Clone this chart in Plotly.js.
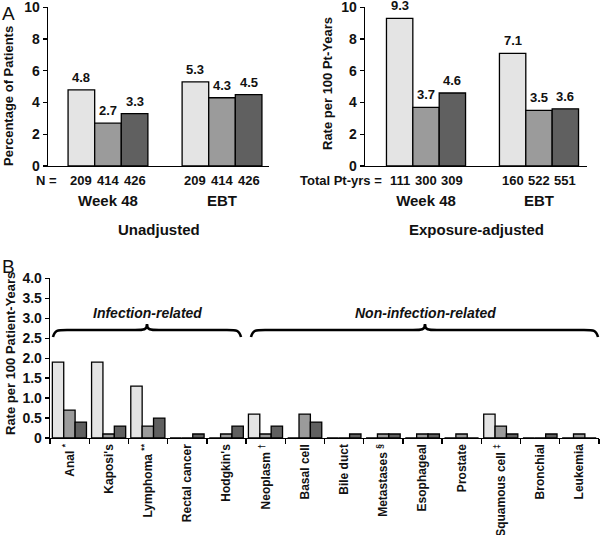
<!DOCTYPE html>
<html><head><meta charset="utf-8">
<script src="https://cdn.plot.ly/plotly-3.0.1.min.js"></script>
<style>html,body{margin:0;padding:0;background:#fff}#chart{width:600px;height:535px}</style>
</head><body><div id="chart"></div>
<script>
// ---------- data ----------
const groups = ['Week 48', 'EBT'];
const unadjLight = [4.8, 5.3];
const unadjMid = [2.7, 4.3];
const unadjDark = [3.3, 4.5];
const nLight = [209, 209];
const nMid = [414, 414];
const nDark = [426, 426];
const expLight = [9.3, 7.1];
const expMid = [3.7, 3.5];
const expDark = [4.6, 3.6];
const ptyLight = [111, 160];
const ptyMid = [300, 522];
const ptyDark = [309, 551];
const cancers = ['Anal <sup>*</sup>', "Kaposi's", 'Lymphoma <sup>**</sup>', 'Rectal cancer', "Hodgkin's",
  'Neoplasm <sup>†</sup>', 'Basal cell', 'Bile duct', 'Metastases <sup>§</sup>', 'Esophageal', 'Prostate',
  'Squamous cell <sup>‡</sup>', 'Bronchial', 'Leukemia'];
const rateLight = [1.9, 1.9, 1.3, 0, 0, 0.6, 0, 0, 0, 0, 0, 0.6, 0, 0];
const rateMid = [0.7, 0.1, 0.3, 0, 0.1, 0.1, 0.6, 0, 0.1, 0.1, 0.1, 0.3, 0, 0.1];
const rateDark = [0.4, 0.3, 0.5, 0.1, 0.3, 0.3, 0.4, 0.1, 0.1, 0.1, 0, 0.1, 0.1, 0];
const topTicks = [0, 2, 4, 6, 8, 10];
const botTicks = [0, 0.5, 1, 1.5, 2, 2.5, 3, 3.5, 4];

// ---------- style ----------
const FONT = "'Liberation Sans', Arial, sans-serif";
const colors = ['#e4e4e4', '#9b9b9b', '#606060'];
const W = 600, H = 535;
const px = x => x / W, py = y => 1 - y / H;
const bold = (size) => ({family: FONT, size: size, color: '#111', weight: 700});

const traces = [];
function addBars(vals, xa, ya, i) {
  traces.push({type: 'bar', x: groups, y: vals, xaxis: xa, yaxis: ya, showlegend: false,
    marker: {color: colors[i], line: {color: '#000', width: 1.3}}, hoverinfo: 'skip'});
}
[unadjLight, unadjMid, unadjDark].forEach((v, i) => addBars(v, 'x', 'y', i));
[expLight, expMid, expDark].forEach((v, i) => addBars(v, 'x2', 'y2', i));
const bw = 0.29, offs = [-0.44, -0.15, 0.14];
[rateLight, rateMid, rateDark].forEach((v, i) => traces.push({type: 'bar', x: cancers, y: v,
  xaxis: 'x3', yaxis: 'y3', width: bw, offset: offs[i], showlegend: false,
  marker: {color: colors[i], line: {color: '#000', width: 1.3}}, hoverinfo: 'skip'}));

const annotations = [];
const step = 0.7 / 3;
function barLabels(series, counts, xr, yr) {
  series.forEach((vals, s) => vals.forEach((v, g) => {
    const xpos = g + (s - 1) * step;
    annotations.push({xref: xr, yref: yr, x: xpos, y: v, text: v.toFixed(1), showarrow: false,
      xanchor: 'center', yanchor: 'bottom', yshift: 3, font: bold(13)});
    annotations.push({xref: xr, yref: yr, x: xpos, y: 0, text: String(counts[s][g]), showarrow: false,
      xanchor: 'center', yanchor: 'middle', yshift: -14, font: bold(13)});
  }));
}
barLabels([unadjLight, unadjMid, unadjDark], [nLight, nMid, nDark], 'x', 'y');
barLabels([expLight, expMid, expDark], [ptyLight, ptyMid, ptyDark], 'x2', 'y2');

const paperText = (x, y, text, font, extra) => Object.assign({xref: 'paper', yref: 'paper', x: px(x), y: py(y),
  xanchor: 'center', yanchor: 'middle', text: text, showarrow: false, font: font}, extra || {});
const plain = {family: FONT, size: 19, color: '#111'};
annotations.push(
  paperText(59, 180, 'N =', bold(13), {xanchor: 'right'}),
  paperText(384, 180, 'Total Pt-yrs =', bold(13), {xanchor: 'right'}),
  paperText(159, 229, 'Unadjusted', bold(15)),
  paperText(476, 229, 'Exposure-adjusted', bold(15)),
  paperText(9, 96, 'Percentage of Patients', bold(13), {textangle: -90}),
  paperText(327, 84, 'Rate per 100 Pt-Years', bold(13), {textangle: -90}),
  paperText(10, 354, 'Rate per 100 Patient-Years', bold(13), {textangle: -90}),
  paperText(0, 1, 'A', plain, {xanchor: 'left', yanchor: 'top'}),
  paperText(0, 254, 'B', plain, {xanchor: 'left', yanchor: 'top'}),
  paperText(147, 313, '<i>Infection-related</i>', bold(14)),
  paperText(425, 313, '<i>Non-infection-related</i>', bold(14))
);

function brace(x0, x1, xm, yMain, yTip, yEnd) {
  const P = (x, y) => px(x).toFixed(4) + ',' + py(y).toFixed(4);
  return 'M' + P(x0, yEnd) + ' C' + P(x0 + 2, yMain) + ' ' + P(x0 + 4, yMain) + ' ' + P(x0 + 14, yMain) +
    ' L' + P(xm - 12, yMain) + ' C' + P(xm - 3, yMain) + ' ' + P(xm, yMain) + ' ' + P(xm, yTip) +
    ' C' + P(xm, yMain) + ' ' + P(xm + 3, yMain) + ' ' + P(xm + 12, yMain) +
    ' L' + P(x1 - 14, yMain) + ' C' + P(x1 - 4, yMain) + ' ' + P(x1 - 2, yMain) + ' ' + P(x1, yEnd);
}
const shapes = [
  {type: 'path', xref: 'paper', yref: 'paper', path: brace(53, 241, 147, 330, 324, 337), line: {color: '#000', width: 2.6}},
  {type: 'path', xref: 'paper', yref: 'paper', path: brace(251, 598, 425, 330, 324, 337), line: {color: '#000', width: 2.6}}
];

const yTop = (dom) => ({domain: dom, range: [0, 10.02], tickvals: topTicks, ticktext: topTicks.map(String),
  showline: true, linecolor: '#000', linewidth: 1.3, ticks: 'outside', ticklen: 4, tickwidth: 1.3, tickcolor: '#000',
  showgrid: false, zeroline: false, tickfont: bold(14), ticklabeloverflow: 'allow', automargin: false, fixedrange: true});
const xTop = (dom, range, anchor) => ({domain: dom, type: 'category', range: range, anchor: anchor,
  showline: true, linecolor: '#000', linewidth: 1.3, ticks: '', showgrid: false, zeroline: false,
  tickfont: bold(15), ticklabelstandoff: 21, ticklabeloverflow: 'allow', automargin: false, fixedrange: true});

const layout = {
  width: W, height: H, margin: {l: 0, r: 0, t: 0, b: 0}, paper_bgcolor: '#fff', plot_bgcolor: 'rgba(0,0,0,0)',
  barmode: 'group', bargap: 0.3, bargroupgap: 0, showlegend: false,
  xaxis: xTop([px(48), px(269)], [-0.526, 1.412], 'y'),
  yaxis: Object.assign(yTop([py(166), py(7)]), {anchor: 'x'}),
  xaxis2: xTop([px(365), px(587)], [-0.54, 1.425], 'y2'),
  yaxis2: Object.assign(yTop([py(166), py(7)]), {anchor: 'x2'}),
  xaxis3: {domain: [px(50), px(599)], anchor: 'y3', type: 'category', range: [-0.5, 13.5],
    showline: true, linecolor: '#000', linewidth: 1.3, ticks: 'outside', tickson: 'boundaries', ticklen: 5,
    tickwidth: 1.3, tickcolor: '#000', tickangle: -90, tickfont: bold(12), showgrid: false, zeroline: false,
    ticklabeloverflow: 'allow', automargin: false, fixedrange: true},
  yaxis3: {domain: [py(438), py(278)], anchor: 'x3', range: [0, 4.01], tickvals: botTicks,
    ticktext: botTicks.map(v => v === 0 ? '0' : v.toFixed(1)), showline: true, linecolor: '#000', linewidth: 1.3,
    ticks: 'outside', ticklen: 4, tickwidth: 1.3, tickcolor: '#000', showgrid: false, zeroline: false,
    tickfont: bold(14), ticklabeloverflow: 'allow', automargin: false, fixedrange: true},
  annotations: annotations, shapes: shapes
};
Plotly.newPlot('chart', traces, layout, {displayModeBar: false, staticPlot: true});
</script></body></html>
